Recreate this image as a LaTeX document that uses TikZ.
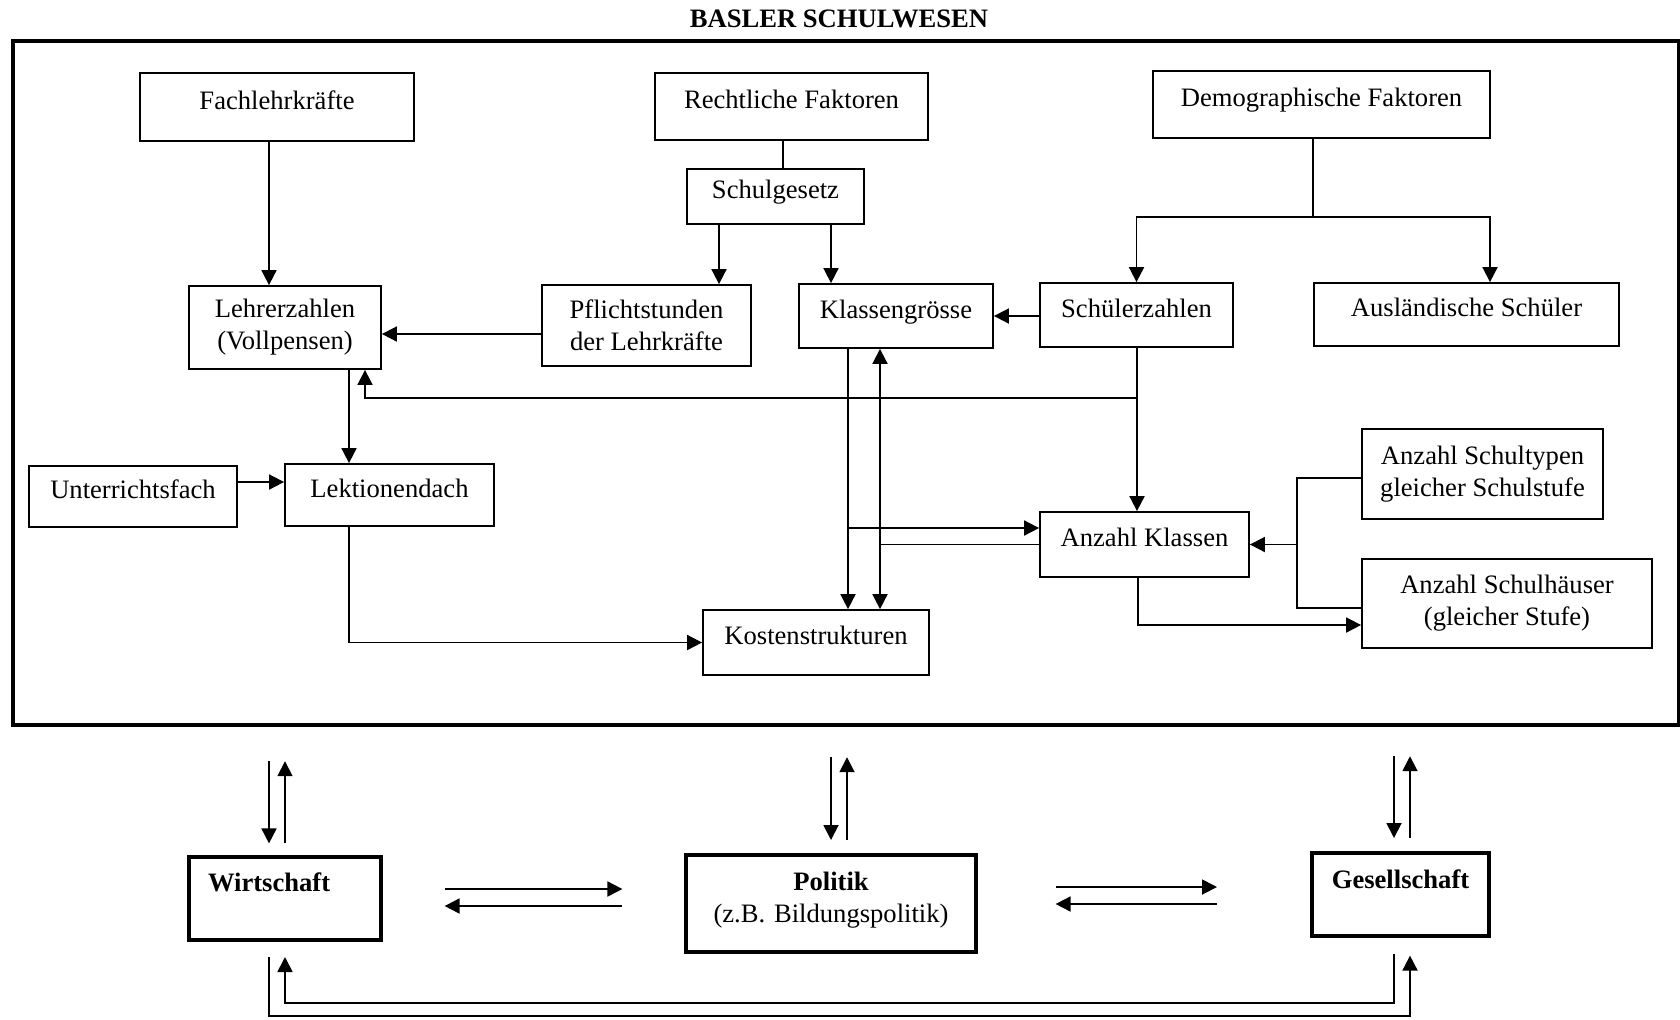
\documentclass[tikz,border=0pt]{standalone}
\usepackage{fontspec}
\setmainfont{Liberation Serif}
\usetikzlibrary{arrows.meta}
\tikzset{
	kasten/.style={draw=black, line width=0.9pt, align=center, inner sep=2pt},
	einzeilig/.style={text height=9pt, text depth=7pt},
	grosskasten/.style={draw=black, line width=1.6pt, inner xsep=0pt, inner ysep=0pt},
	linie/.style={line width=0.9pt},
	pfeil/.style={line width=0.9pt, -{Triangle[length=7.5pt, width=7.5pt]}},
	doppelpfeil/.style={line width=0.9pt, {Triangle[length=7.5pt, width=7.5pt]}-{Triangle[length=7.5pt, width=7.5pt]}}
}

\begin{document}
\begin{tikzpicture}[x=0.5pt, y=-0.5pt, font=\fontsize{13.3}{16}\selectfont]
\useasboundingbox (0,0) rectangle (1680,1019);

\node[font=\fontsize{13.3}{16}\selectfont\bfseries] (titel) at (839,19) {BASLER SCHULWESEN};
\node[draw, line width=2.2pt, minimum width=833pt, minimum height=342pt, inner sep=0pt] (schulwesen) at (846,383) {};

\node[kasten, einzeilig, minimum width=137pt, minimum height=34pt] (fach) at (277,107) {Fachlehrkräfte};
\node[kasten, einzeilig, minimum width=136.5pt, minimum height=33.5pt] (recht) at (791.5,106.5) {Rechtliche Faktoren};
\node[kasten, einzeilig, minimum width=168.5pt, minimum height=33.5pt] (demo) at (1321.5,104.5) {Demographische Faktoren};
\node[kasten, einzeilig, minimum width=88.5pt, minimum height=27.5pt] (gesetz) at (775.5,196.5) {Schulgesetz};

\node[kasten, minimum width=96pt, minimum height=41.5pt] (lehrer) at (285,327.5) {Lehrerzahlen\\(Vollpensen)};
\node[kasten, minimum width=104.5pt, minimum height=40.5pt] (pflicht) at (646.5,325.5) {Pflichtstunden\\der Lehrkräfte};
\node[kasten, einzeilig, minimum width=97pt, minimum height=32pt] (klgr) at (896,316) {Klassengrösse};
\node[kasten, einzeilig, minimum width=96.5pt, minimum height=32pt] (schueler) at (1136.5,315) {Schülerzahlen};
\node[kasten, einzeilig, minimum width=152.5pt, minimum height=31.5pt] (ausl) at (1466.5,314.5) {Ausländische Schüler};

\node[kasten, einzeilig, minimum width=104pt, minimum height=30.5pt] (unterricht) at (133,496.5) {Unterrichtsfach};
\node[kasten, einzeilig, minimum width=104.5pt, minimum height=31pt] (lektion) at (389.5,495) {Lektionendach};
\node[kasten, einzeilig, minimum width=104.5pt, minimum height=32.5pt] (anzkl) at (1144.5,544.5) {Anzahl Klassen};
\node[kasten, minimum width=120.5pt, minimum height=45pt] (typen) at (1482.5,474) {Anzahl Schultypen\\gleicher Schulstufe};
\node[kasten, minimum width=145pt, minimum height=44.5pt] (haeuser) at (1507,603.5) {Anzahl Schulhäuser\\(gleicher Stufe)};
\node[kasten, einzeilig, minimum width=113pt, minimum height=32.5pt] (kosten) at (816,642.5) {Kostenstrukturen};

\node[grosskasten, text width=77pt, inner xsep=9.5pt, align=left, text height=17pt, text depth=24.5pt,
	font=\fontsize{13.3}{16}\selectfont\bfseries] (wirt) at (285,898.5) {Wirtschaft};
\node[grosskasten, text width=145pt, align=center, text height=17.5pt, text depth=31pt] (politik) at (831,903.5)
	{\textbf{Politik}\\(z.B. Bildungspolitik)};
\node[grosskasten, text width=88.5pt, align=center, text height=17.5pt, text depth=24pt,
	font=\fontsize{13.3}{16}\selectfont\bfseries] (gesell) at (1400.5,894.5) {Gesellschaft};

\draw[pfeil] (fach.south -| 269,0) -- (lehrer.north -| 269,0);
\draw[linie] (recht.south -| 783,0) -- (gesetz.north -| 783,0);
\draw[pfeil] (gesetz.south -| 719,0) -- (pflicht.north -| 719,0);
\draw[pfeil] (gesetz.south -| 831,0) -- (klgr.north -| 831,0);

\coordinate (demoknoten) at (1313,217);
\draw[linie] (demo.south -| demoknoten) -- (demoknoten);
\draw[pfeil] (demoknoten) -| (schueler.north);
\draw[pfeil] (demoknoten) -| (ausl.north -| 1490,0);

\draw[pfeil] (pflicht.west |- 0,334) -- (lehrer.east |- 0,334);
\draw[pfeil] (schueler.west |- klgr.east) -- (klgr.east);

\coordinate (schuelerknoten) at (1137,398);
\draw[pfeil] (schueler.south -| schuelerknoten) -- (anzkl.north -| schuelerknoten);
\draw[pfeil] (schuelerknoten) -| (lehrer.south -| 365,0);

\draw[pfeil] (lehrer.south -| 349,0) -- (lektion.north -| 349,0);
\draw[pfeil] (unterricht.east |- 0,482) -- (lektion.west |- 0,482);
\draw[pfeil] (lektion.south -| 349,0) |- (kosten.west);

\coordinate (klgrknoten) at (848,528);
\draw[pfeil] (klgr.south -| klgrknoten) -- (kosten.north -| klgrknoten);
\draw[pfeil] (klgrknoten) -- (anzkl.west |- klgrknoten);
\draw[doppelpfeil] (klgr.south -| 880,0) -- (kosten.north -| 880,0);
\draw[linie] (anzkl.west) -- (anzkl.west -| 880,0);

\coordinate (stufenknoten) at (1297,544.5);
\draw[linie] (typen.west |- 0,478) -| (stufenknoten) |- (haeuser.west |- 0,608);
\draw[pfeil] (stufenknoten) -- (anzkl.east);
\draw[pfeil] (anzkl.south -| 1138,0) |- (haeuser.west |- 0,625);

% Wechselwirkungen nach aussen
\draw[pfeil, shorten <=17pt, shorten >=6pt] (schulwesen.south -| 269,0) -- (wirt.north -| 269,0);
\draw[pfeil, shorten <=6pt, shorten >=17pt] (wirt.north -| 285,0) -- (schulwesen.south -| 285,0);
\draw[pfeil, shorten <=15pt, shorten >=6.7pt] (schulwesen.south -| 831,0) -- (politik.north -| 831,0);
\draw[pfeil, shorten <=6.7pt, shorten >=15pt] (politik.north -| 847,0) -- (schulwesen.south -| 847,0);
\draw[pfeil, shorten <=14.5pt, shorten >=6.7pt] (schulwesen.south -| 1394,0) -- (gesell.north -| 1394,0);
\draw[pfeil, shorten <=6.7pt, shorten >=14.5pt] (gesell.north -| 1410,0) -- (schulwesen.south -| 1410,0);

\draw[pfeil, shorten <=31pt, shorten >=31pt] (wirt.east |- 0,889) -- (politik.west |- 0,889);
\draw[pfeil, shorten <=31pt, shorten >=31pt] (politik.west |- 0,906) -- (wirt.east |- 0,906);
\draw[pfeil, shorten <=39pt, shorten >=46.7pt] (politik.east |- 0,887) -- (gesell.west |- 0,887);
\draw[pfeil, shorten <=46.7pt, shorten >=39pt] (gesell.west |- 0,904) -- (politik.east |- 0,904);

\draw[pfeil, shorten <=8pt, shorten >=7.7pt] (gesell.south -| 1394,0) -- (1394,1003) -| (wirt.south -| 285,0);
\draw[pfeil, shorten <=7.7pt, shorten >=9pt] (wirt.south -| 269,0) -- (269,1016) -| (gesell.south -| 1410,0);
\end{tikzpicture}
\end{document}
